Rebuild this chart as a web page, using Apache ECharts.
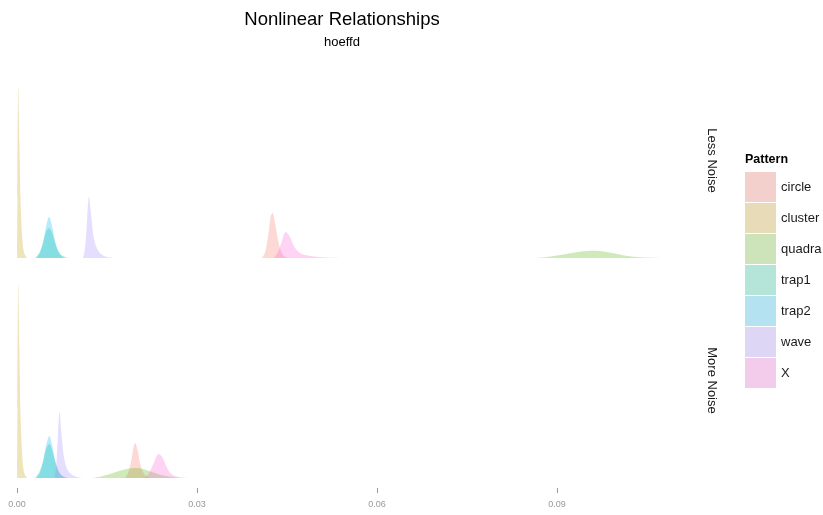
<!DOCTYPE html>
<html><head><meta charset="utf-8">
<script src="https://cdn.jsdelivr.net/npm/echarts@6/dist/echarts.min.js"></script>
<style>html,body{margin:0;padding:0;background:#fff}#c{width:823px;height:515px}</style>
</head><body><div id="c"></div>
<script>
var patterns = ['circle','cluster','quadra','trap1','trap2','wave','X'];
var hueColors = ['#F8766D','#C49A00','#53B400','#00C094','#00B6EB','#A58AFF','#FB61D7'];
var legendColors = ['#F4D0CD','#E8DBB8','#CDE3B9','#B5E5D8','#B5E2F0','#DDD6F4','#F4CCEB'];
var facets = ['Less Noise','More Noise'];
var xTicks = [0, 0.03, 0.06, 0.09];
var xTickLabels = ['0.00','0.03','0.06','0.09'];

// density curves: [x value, density height]
var circleLess  = [[0.0408,0],[0.0413,5],[0.0418,20],[0.0423,42],[0.0426,45],[0.0430,35],[0.0435,18],[0.0440,7],[0.0445,2],[0.0452,0]];
var clusterLess = [[0,0],[0.00008,60],[0.0002,172],[0.0004,115],[0.0006,55],[0.0009,18],[0.0012,5],[0.0017,0]];
var quadraLess  = [[0.0860,0],[0.0880,0.8],[0.0900,2.5],[0.0920,4.5],[0.0940,6.5],[0.0958,7.3],[0.0975,6.8],[0.0995,4.8],[0.1015,2.3],[0.1040,0.8],[0.1083,0]];
var trap1Less   = [[0.0030,0],[0.0037,5],[0.0043,14],[0.0048,25],[0.0053,30],[0.0058,26],[0.0063,16],[0.0068,8],[0.0074,3],[0.0085,0]];
var trap2Less   = [[0.0032,0],[0.0038,5],[0.0043,15],[0.0048,30],[0.00535,41],[0.0058,33],[0.0063,18],[0.0068,8],[0.0074,2],[0.0080,0]];
var waveLess    = [[0.0110,0],[0.0113,8],[0.0116,30],[0.0120,61],[0.0124,40],[0.0128,20],[0.0133,10],[0.0140,4],[0.0150,1],[0.0165,0]];
var xLess       = [[0.0428,0],[0.0435,6],[0.0441,16],[0.0448,26],[0.0454,22],[0.0460,14],[0.0466,8],[0.0475,4],[0.0490,2],[0.0510,0.7],[0.0540,0]];

var circleMore  = [[0.0180,0],[0.0185,5],[0.0190,16],[0.0194,30],[0.0197,35],[0.0201,28],[0.0205,15],[0.0210,6],[0.0215,2],[0.0222,0]];
var clusterMore = [[0,0],[0.00008,70],[0.0002,195],[0.0004,128],[0.0006,60],[0.0009,20],[0.0012,5],[0.0017,0]];
var quadraMore  = [[0.0125,0],[0.0140,1.5],[0.0155,4],[0.0170,7],[0.0185,9.3],[0.0197,10],[0.0210,9],[0.0225,6],[0.0240,3],[0.0255,1.2],[0.0270,0]];
var trap1More   = [[0.0030,0],[0.0037,6],[0.0043,16],[0.0048,28],[0.0054,34],[0.0058,29],[0.0063,18],[0.0068,9],[0.0074,3],[0.0085,0]];
var trap2More   = [[0.0032,0],[0.0038,5],[0.0043,15],[0.0048,31],[0.0054,42],[0.0058,34],[0.0063,19],[0.0068,8],[0.0075,2],[0.0082,0]];
var waveMore    = [[0.0062,0],[0.0065,10],[0.0068,40],[0.0071,66],[0.0074,45],[0.0078,22],[0.0083,10],[0.0090,4],[0.0100,1],[0.0112,0]];
var xMore       = [[0.0213,0],[0.0220,5],[0.0228,15],[0.0236,24],[0.0242,21],[0.0248,13],[0.0254,6],[0.0260,3],[0.0270,1],[0.0285,0]];

var lessData = [circleLess, clusterLess, quadraLess, trap1Less, trap2Less, waveLess, xLess];
var moreData = [circleMore, clusterMore, quadraMore, trap1More, trap2More, waveMore, xMore];

var font = 'Liberation Sans, Arial, sans-serif';
var series = [];
[lessData, moreData].forEach(function (set, gi) {
  set.forEach(function (d, i) {
    series.push({
      name: patterns[i], type: 'line', xAxisIndex: gi, yAxisIndex: gi,
      data: d, smooth: 0.35, showSymbol: false, symbol: 'none', silent: true,
      color: hueColors[i],
      lineStyle: {width: 0, opacity: 0},
      areaStyle: {color: hueColors[i], opacity: 0.28}
    });
  });
});

function tickLabel(v) {
  for (var k = 0; k < xTicks.length; k++) {
    if (Math.abs(xTicks[k] - v) < 1e-9) return xTickLabels[k];
  }
  return '';
}

var xAxisBase = {type: 'value', min: 0, max: 0.1135, interval: 0.03, splitLine: {show: false},
  axisLine: {show: false, onZero: false}};
var chart = echarts.init(document.getElementById('c'), null, {renderer: 'canvas'});
chart.setOption({
  backgroundColor: '#fff',
  animation: false,
  title: {
    text: 'Nonlinear Relationships', subtext: 'hoeffd',
    left: 337, top: 5, textAlign: 'center', itemGap: 7,
    textStyle: {fontFamily: font, fontSize: 18.5, fontWeight: 'normal', color: '#000'},
    subtextStyle: {fontFamily: font, fontSize: 13, color: '#000'}
  },
  grid: [
    {left: 17, right: 125, top: 53, height: 215},
    {left: 17, right: 125, top: 273, height: 215}
  ],
  xAxis: [
    Object.assign({gridIndex: 0, axisTick: {show: false}, axisLabel: {show: false}}, xAxisBase),
    Object.assign({gridIndex: 1,
      axisTick: {show: true, length: 5, lineStyle: {color: '#999'}, customValues: xTicks},
      axisLabel: {show: true, color: '#999', fontSize: 9, fontFamily: font, margin: 12,
        customValues: xTicks, formatter: tickLabel}
    }, xAxisBase)
  ],
  yAxis: [
    {type: 'value', gridIndex: 0, min: -10, max: 205, show: false, splitLine: {show: false}},
    {type: 'value', gridIndex: 1, min: -10, max: 205, show: false, splitLine: {show: false}}
  ],
  legend: {
    orient: 'vertical', left: 745, top: 172, icon: 'rect', padding: 0,
    itemWidth: 31, itemHeight: 30, itemGap: 1,
    textStyle: {fontFamily: font, fontSize: 13, color: '#1a1a1a'},
    data: patterns.map(function (p, i) { return {name: p, itemStyle: {color: legendColors[i], opacity: 1}}; }),
    selectedMode: false
  },
  graphic: [
    {type: 'text', left: 745, top: 153, style: {text: 'Pattern', font: 'bold 12.5px ' + font, fill: '#000'}},
    {type: 'text', x: 712, y: 160.5, rotation: -Math.PI / 2,
      style: {text: facets[0], font: '13px ' + font, fill: '#1a1a1a', align: 'center', verticalAlign: 'middle'}},
    {type: 'text', x: 712, y: 380.5, rotation: -Math.PI / 2,
      style: {text: facets[1], font: '13px ' + font, fill: '#1a1a1a', align: 'center', verticalAlign: 'middle'}}
  ],
  series: series
});
</script></body></html>
